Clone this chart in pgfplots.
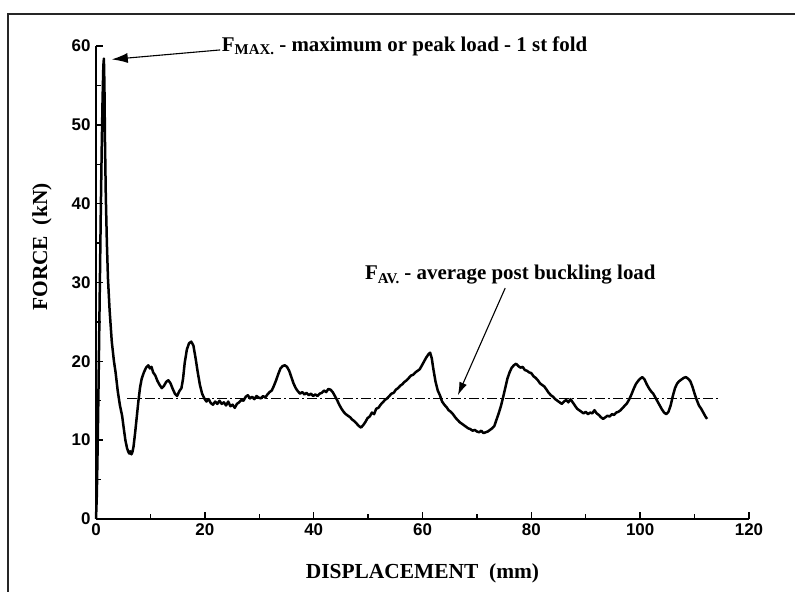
\documentclass[border=0pt]{standalone}
\usepackage{fontspec}
\setmainfont{Liberation Serif}
\newfontfamily\arial{Liberation Sans}
\usepackage{pgfplots}
\pgfplotsset{compat=1.18}
\usetikzlibrary{arrows.meta}

\begin{document}
\begin{tikzpicture}
\useasboundingbox (-96bp,-73bp) rectangle (699bp,519bp);
% outer frame (left and top only)
\draw[line width=1.3bp, black!85] (-88bp,-73bp) -- (-88bp,505bp) -- (699bp,505bp);
\begin{axis}[
  scale only axis,
  width=653bp, height=473bp,
  xmin=0, xmax=120, ymin=0, ymax=60,
  axis lines*=left,
  axis line style={line width=1.8bp},
  xtick={0,20,...,120}, ytick={0,10,...,60},
  minor x tick num=1, minor y tick num=1,
  tick align=inside,
  major tick length=7bp, minor tick length=5bp,
  major tick style={line width=1.4bp, black},
  minor tick style={line width=1.4bp, black},
  /pgf/number format/assume math mode=true,
  tick label style={font=\arial\bfseries\fontsize{17}{17}\selectfont},
  xticklabel style={yshift=-1bp},
  yticklabel style={xshift=-2bp},
  xlabel={DISPLACEMENT\ \ (mm)},
  ylabel={FORCE\ \ (kN)},
  every axis x label/.style={at={([yshift=-54bp]axis description cs:0.5,0)}, anchor=center},
  every axis y label/.style={at={([xshift=-54bp]axis description cs:0,0.575)}, anchor=center, rotate=90},
  label style={font=\bfseries\fontsize{21.5}{23}\selectfont},
  clip=false,
]
\addplot[black, line width=2.5bp, line join=round] coordinates {
(0,0) (0.15,3) (0.3,9) (0.45,16) (0.6,24) (0.75,32) (0.9,40) (1.05,47) (1.2,53) (1.35,57.5) (1.45,58.4)
(1.55,55) (1.65,48) (1.8,41) (2.0,35) (2.2,30.5) (2.5,26.5) (2.9,22.5) (3.3,20) (3.6,18.6) (4.0,16.2)
(4.4,14.4) (4.8,13.1) (5.1,11.5) (5.4,10) (5.7,9) (5.9,8.6) (6.1,8.3) (6.3,8.6) (6.5,8.2) (6.7,8.5)
(6.9,9.2) (7.2,11) (7.5,13) (7.8,15) (8.1,16.7) (8.4,17.8) (8.8,18.6) (9.2,19.2) (9.6,19.5) (9.9,19.1)
(10.2,19.3) (10.5,18.6) (10.9,18.2) (11.3,17.5) (11.7,17.0) (12.1,16.6) (12.5,16.9) (12.9,17.4) (13.3,17.6)
(13.7,17.2) (14.1,16.5) (14.5,15.9) (14.9,15.6) (15.3,16.2) (15.7,16.6) (16.0,17.8) (16.3,19.8) (16.7,21.5)
(17.1,22.3) (17.5,22.5) (17.9,22.0) (18.3,20.4) (18.7,18.6) (19.1,17.0) (19.5,15.9) (19.9,15.3) (20.3,14.9)
(20.7,15.2) (21.1,14.7) (21.5,14.5) (21.9,14.9) (22.3,14.6) (22.7,15.0) (23.1,14.6) (23.5,14.8) (23.9,14.4)
(24.3,14.9) (24.7,14.3) (25.1,14.5) (25.5,14.1) (25.9,14.6) (26.3,14.8) (26.7,15.1) (27.1,15.0) (27.5,15.5)
(27.9,15.7) (28.3,15.3) (28.7,15.5) (29.1,15.2) (29.5,15.6) (29.9,15.4) (30.3,15.3) (30.7,15.6) (31.1,15.4)
(31.5,15.8) (31.9,16.1) (32.3,16.3) (32.7,16.9) (33.1,17.6) (33.5,18.4) (33.9,19.1) (34.3,19.4) (34.7,19.5)
(35.1,19.3) (35.5,18.8) (35.9,18.0) (36.3,17.2) (36.7,16.6) (37.1,16.2) (37.5,15.9) (37.9,16.1) (38.3,15.8)
(38.7,16.0) (39.1,15.7) (39.5,15.9) (39.9,15.6) (40.3,15.8) (40.7,15.6) (41.1,15.9) (41.5,16.0) (41.9,16.3)
(42.3,16.1) (42.7,16.5) (43.1,16.4) (43.5,16.1) (43.9,15.6) (44.3,15.1) (44.7,14.5) (45.1,14.0) (45.5,13.6)
(45.9,13.3) (46.3,13.1) (46.7,12.9) (47.1,12.6) (47.5,12.4) (47.9,12.1) (48.3,11.8) (48.7,11.6) (49.1,11.9)
(49.5,12.3) (49.9,12.8) (50.3,13.0) (50.7,13.5) (51.1,13.3) (51.5,14.0) (51.9,14.1) (52.3,14.5) (52.7,14.8)
(53.1,15.1) (53.5,15.3) (53.9,15.6) (54.3,15.9) (54.7,16.0) (55.1,16.4) (55.5,16.6) (55.9,16.9) (56.3,17.1)
(56.7,17.4) (57.1,17.6) (57.5,17.9) (57.9,18.2) (58.3,18.3) (58.7,18.6) (59.1,18.8) (59.5,19.0) (59.9,19.5)
(60.3,20.0) (60.7,20.5) (61.1,20.9) (61.4,21.1) (61.7,20.4) (62.0,19.0) (62.4,17.4) (62.8,16.3) (63.2,15.7)
(63.6,14.9) (64.0,14.5) (64.4,14.2) (64.8,13.8) (65.2,13.6) (65.6,13.3) (66.0,12.9) (66.4,12.6) (66.8,12.3)
(67.2,12.1) (67.6,11.9) (68.0,11.7) (68.4,11.5) (68.8,11.4) (69.2,11.2) (69.6,11.3) (70.0,11.1) (70.4,11.0)
(70.8,11.2) (71.2,10.9) (71.6,11.0) (72.0,11.1) (72.4,11.3) (72.8,11.5) (73.2,11.8) (73.6,12.6) (74.0,13.4)
(74.4,14.3) (74.8,15.4) (75.2,16.6) (75.6,17.8) (76.0,18.6) (76.4,19.2) (76.8,19.5) (77.2,19.7) (77.6,19.4)
(78.0,19.2) (78.4,19.3) (78.8,18.9) (79.2,18.8) (79.6,18.6) (80.0,18.5) (80.4,18.1) (80.8,17.9) (81.2,17.6)
(81.6,17.2) (82.0,17.0) (82.4,16.8) (82.8,16.4) (83.2,16.0) (83.6,15.7) (84.0,15.5) (84.4,15.2) (84.8,15.0)
(85.2,14.8) (85.6,14.6) (86.0,14.9) (86.4,15.1) (86.8,14.8) (87.2,15.2) (87.6,14.8) (88.0,14.4) (88.4,14.0)
(88.8,13.8) (89.2,13.6) (89.6,13.4) (90.0,13.6) (90.4,13.3) (90.8,13.5) (91.2,13.4) (91.6,13.8) (92.0,13.4)
(92.4,13.2) (92.8,12.9) (93.2,12.7) (93.6,12.9) (94.0,13.1) (94.4,13.0) (94.8,13.3) (95.2,13.2) (95.6,13.5)
(96.0,13.6) (96.4,13.8) (96.8,14.1) (97.2,14.4) (97.6,14.7) (98.0,15.2) (98.4,15.8) (98.8,16.5) (99.2,17.1)
(99.6,17.5) (100.0,17.8) (100.4,18.0) (100.8,17.7) (101.2,17.1) (101.6,16.6) (102.0,16.2) (102.4,15.9)
(102.8,15.4) (103.2,14.9) (103.6,14.4) (104.0,13.9) (104.4,13.5) (104.8,13.3) (105.2,13.6) (105.6,14.4)
(106.0,15.6) (106.4,16.6) (106.8,17.2) (107.2,17.5) (107.6,17.7) (108.0,17.9) (108.4,18.0) (108.8,17.8)
(109.2,17.5) (109.6,16.8) (110.0,15.9) (110.4,15.1) (110.8,14.4) (111.2,14.0) (111.6,13.5) (112.0,13.0) (112.3,12.7)
};
% average post buckling load
\addplot[black, line width=1.3bp, dash pattern=on 10bp off 3bp on 2bp off 3bp] coordinates {(5.7,15.3) (114.4,15.3)};

\draw[-{Latex[length=16bp,width=10bp]}, line width=1.1bp] (axis cs:22.8,59.5) -- (axis cs:2.9,58.3);
\node[anchor=west, inner sep=0pt, font=\bfseries\fontsize{21}{23}\selectfont] at (axis cs:23.1,60.0)
  {F\raisebox{-3.5bp}{\fontsize{15}{15}\selectfont MAX.} - maximum or peak load - 1 st fold};

\draw[-{Latex[length=13bp,width=8bp]}, line width=1.1bp] (axis cs:75.2,29.3) -- (axis cs:66.5,15.7);
\node[anchor=west, inner sep=0pt, font=\bfseries\fontsize{21}{23}\selectfont] at (axis cs:49.4,31.0)
  {F\raisebox{-3.5bp}{\fontsize{15}{15}\selectfont AV.} - average post buckling load};
\end{axis}
\end{tikzpicture}
\end{document}
